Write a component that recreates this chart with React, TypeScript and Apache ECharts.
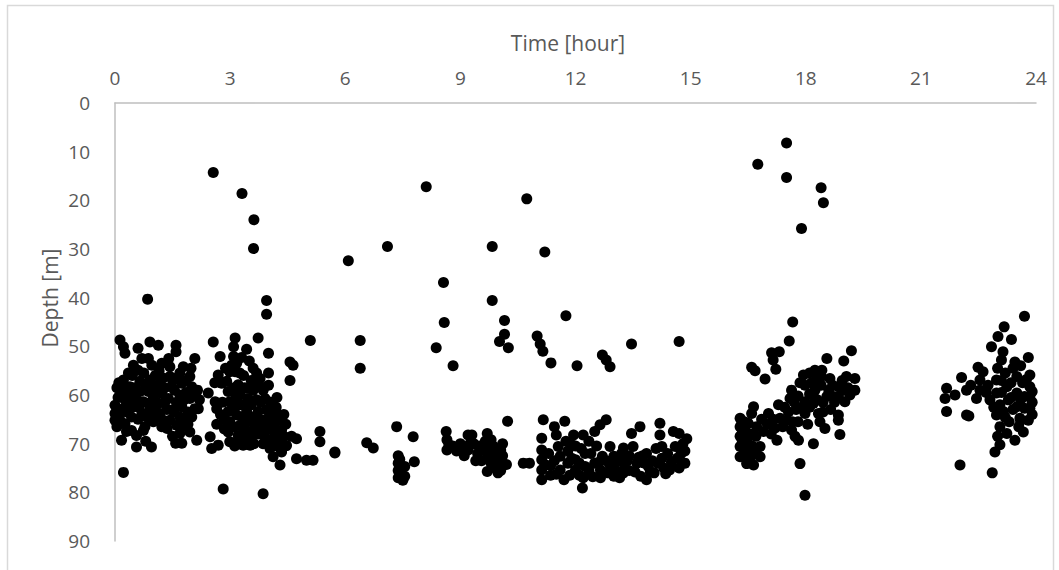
import React, { useEffect, useRef } from "react";
import * as echarts from "echarts";

const xTicks = [0, 3, 6, 9, 12, 15, 18, 21, 24];
const yTicks = [0, 10, 20, 30, 40, 50, 60, 70, 80, 90];
const xTitle = "Time [hour]";
const yTitle = "Depth [m]";

// [hour, depth]
const earlyMorning: number[][] = [
  [0.13,48.7],[0.22,50.1],[0.26,51.4],[0.6,50.4],[0.91,49.1],[1.13,49.8],[1.59,49.8],[1.59,51.1],
  [0.48,53.9],[0.6,54.9],[0.87,52.5],[0.96,53.9],[1.22,53.5],[1.43,54.2],[1.78,54.2],[2.08,52.5],
  [0.22,56.9],[0.22,59],[0.26,61],[0.22,62.8],[0.0,62.1],[0.0,63.8],[0.0,65.2],
  [0.39,58.3],[0.43,60.3],[0.48,62.4],[0.43,64.5],
  [0.65,57.2],[0.65,59.3],[0.74,61.4],[0.7,63.8],
  [0.91,56.9],[0.87,59.3],[0.87,61.7],
  [1.17,57.6],[1.22,59.7],[1.13,61.7],[1.17,63.8],
  [1.43,56.2],[1.48,58.3],[1.39,60.7],[1.48,63.1],[1.43,65.2],
  [1.69,55.5],[1.74,57.6],[1.69,60],[1.74,62.4],[1.69,64.5],[1.74,66.5],
  [1.95,56.2],[2.0,58.3],[1.95,60.7],[2.08,62.8],[2.17,62.8],
  [0.13,65.2],[0.26,65.9],[0.43,67.3],[0.56,68.3],[0.74,67.3],
  [0.17,69.3],[0.56,70.7],[0.95,70.7],[1.36,66.9],[1.58,69.9],[1.74,69.9],[1.69,67.9],
  [1.95,67.6],[2.13,69.3],[1.61,66.2],[1.78,65.2],[0.22,75.9],[0.83,64.5],[0.78,66.5],
  [1.04,64.5],[1.26,65.2],[1.22,66.5],
  [0.08,60.5],[0.3,63.5],[0.52,58.5],[0.56,61],[0.8,58],[1.0,60.5],[1.05,62.5],[1.3,58.5],
  [1.3,61.5],[1.55,59],[1.6,61.5],[1.85,59.5],[1.9,63.5],[2.05,60],[1.55,63.5],[0.35,55.5],
  [1.05,56],[0.05,58.5],
  [0.1,57.5],[0.32,59.5],[0.35,62],[0.15,63.5],[0.3,67.5],[0.62,62.5],[0.6,65],[0.9,63],
  [0.95,58],[1.1,59],[1.0,65.5],[1.35,63],[1.25,56.5],[1.5,57],[1.6,56.5],[1.8,61],
  [1.85,57],[2.0,64.5],[1.9,66],[0.75,55.5],[0.45,56],[1.15,55],[1.4,52.5],[0.7,52.5],
  [0.05,66.5],[1.5,68.5],[0.8,69.5],[2.15,59],[2.2,61],[1.98,54.5],
];

const lateMorning: number[][] = [
  [2.56,49.1],[3.13,48.3],[3.09,50.1],[3.73,48.3],[3.43,50.6],[4.0,51.4],[2.74,52.1],[3.09,52.1],
  [3.04,53.9],[2.99,55.2],[3.17,53.5],[3.13,55.2],[2.69,55.9],[2.78,57.6],
  [2.91,57.2],[2.95,59.3],[2.99,61.4],[2.95,63.4],[2.99,65.5],[2.95,67.6],[2.99,69.6],
  [3.21,57.9],[3.26,60],[3.21,62.1],[3.17,64.1],[3.26,66.2],[3.21,68.3],
  [3.43,58.6],[3.47,60.7],[3.43,63.4],[3.47,65.5],[3.52,67.6],[3.47,69.6],
  [3.6,54.5],[3.69,55.5],[3.78,56.6],[3.6,59],[3.69,61],[3.73,63.4],
  [3.86,59],[3.91,60.7],[3.95,63.1],[3.91,65.2],[3.95,67.2],
  [4.12,63.1],[4.17,65.2],[4.21,67.2],[4.12,69],
  [4.3,65.2],[4.34,67.2],[4.3,69.3],[4.34,71.4],
  [3.86,65.2],[3.73,68],[3.86,70],
  [3.34,70.3],[3.52,70.3],[3.21,69.3],[2.48,68.6],[2.52,71],[2.69,70.3],[2.43,59.6],[2.61,61.4],[2.65,62.8],
  [4.56,53.2],[4.64,53.9],[4.56,57],[4.12,72.7],[4.3,74.4],[4.73,69],[4.73,73.1],[4.99,73.4],
  [5.16,73.4],[5.34,67.5],[5.34,69.6],[5.73,71.7],[2.82,79.3],[3.86,80.3],[4.08,69.6],[4.04,71],
  [4.34,71.7],[4.47,70.4],[3.69,64.5],
  [3.35,56],[3.55,62],[3.3,64.5],[3.1,66.5],[2.85,65],[2.8,61.5],[3.65,66.5],[4.05,61.5],
  [4.2,62.5],[4.45,66],[4.0,58],[3.35,67],[4.6,68.5],[4.15,67.5],
  [3.1,58.5],[3.15,60.5],[3.05,63],[3.3,62],[3.38,58.5],[3.55,57],[3.58,64.5],[3.62,68],
  [3.8,61.5],[3.8,66.5],[3.75,58],[4.05,64],[4.1,66.5],[4.25,64],[4.25,68.5],[4.4,68.5],
  [4.4,64],[4.2,70.5],[2.85,67],[2.75,64],[2.65,66],[3.12,70.5],[3.4,68.8],[3.62,70],
  [3.9,68.5],[2.88,54.5],[3.25,55.5],[3.5,53],[3.3,52.3],[2.6,57.5],[4.0,55.5],[4.22,60.5],
];

const scatteredHigh: number[][] = [
  [2.56,14.3],[3.31,18.6],[3.62,24],[3.61,29.9],[3.95,40.6],[3.95,43.4],[5.09,48.8],
  [0.85,40.3],[6.08,32.4],[7.1,29.5],[8.11,17.2],[8.56,36.9],[9.83,29.5],[9.83,40.6],
  [6.39,48.8],[6.39,54.5],[8.58,45.1],[8.37,50.3],[8.81,54],[10.15,44.7],[10.15,47.5],
  [10.02,49],[10.25,50.3],[10.73,19.7],[11.2,30.6],[11.75,43.7],[11.0,47.9],[11.08,49.5],
  [11.15,51],[11.36,53.4],[12.04,54],[12.7,51.8],[12.8,52.8],[12.9,54.2],[13.46,49.5],[14.7,49],
  [17.5,8.2],[16.75,12.6],[17.5,15.3],[18.4,17.4],[18.46,20.5],[17.89,25.8],
];

const middayBand: number[][] = [
  [5.73,71.9],[6.56,69.8],[6.73,70.9],[7.34,66.5],[7.77,68.6],[7.38,72.5],[7.38,74],[7.38,75.5],
  [7.38,77],[7.55,74.7],[7.55,76.7],[7.8,73.7],[7.45,76],[7.5,77.5],
  [8.63,67.5],[8.65,69.2],[8.65,71.3],[8.8,70.5],[9.2,68.2],[9.3,68.2],[9.2,71.3],[9.45,72],
  [9.7,67.9],[9.8,69.2],[9.7,72],[9.8,74],[9.7,75.7],[9.95,72],[10.0,74],[9.98,76],[10.2,74.3],
  [10.23,65.4],[10.64,74],[10.8,74],
  [8.9,71.5],[9.0,70],[9.1,72.5],[9.35,70],[9.5,70.5],[9.55,73.5],[9.6,71],[9.85,70.5],
  [9.9,75],[10.1,72.5],[10.05,75.5],[9.4,73.5],[10.1,70],
  [8.7,70.2],[8.95,71],[9.25,70],[9.65,69.5],[9.75,73],[9.9,73.5],[10.05,71.3],[7.42,73.2],
];

const afternoonBand: number[][] = [
  [11.16,65.1],[11.72,65.4],[12.64,66.1],[12.8,65.1],
  [11.12,68.9],[11.12,71.3],[11.12,73.3],[11.12,75.4],[11.12,77.4],
  [11.5,68.2],[11.55,70.6],[11.6,72.6],[11.6,75.4],[11.7,77.4],
  [11.95,68.2],[12.0,70.5],[12.0,73.3],[12.0,75.4],
  [12.2,68.2],[12.25,72],[12.25,74.7],[12.2,77],[12.18,79.1],
  [12.4,72],[12.5,74],[12.7,72.6],[12.65,75.4],[12.65,77],
  [12.9,70.6],[13.0,72.6],[13.0,75],[13.0,76.7],
  [13.25,70.9],[13.25,74],[13.25,76],
  [13.46,67.9],[13.68,66.5],
  [13.5,70.6],[13.6,74],[13.7,76.7],
  [13.85,72],[13.9,74.7],[13.85,77.4],
  [14.2,65.8],[14.2,68.2],[14.25,70.6],[14.25,73],[14.3,75],
  [14.55,67.5],[14.7,67.9],[14.6,70.6],[14.65,73],[14.7,75],[14.45,75.4],
  [11.3,72],[11.35,74.5],[11.35,76.5],[11.8,71.5],[11.8,74],[11.85,76.5],[12.1,76.5],[12.35,75.5],
  [12.55,70.5],[12.8,73.5],[12.85,76],[13.1,73.5],[13.15,77],[13.4,72.5],[13.4,75.5],[13.75,72.5],
  [14.0,73.5],[14.05,76],[14.1,71],[14.4,72],[14.85,71.5],[14.85,74],[14.9,69],[11.45,66.5],
  [12.5,67.5],[12.35,69.5],[11.75,69.5],
  [11.2,74.3],[11.45,73.5],[11.5,76.3],[11.9,73],[12.1,74],[12.45,76.8],[12.6,73.8],[12.9,74.5],
  [13.1,75.8],[13.35,73.5],[13.55,75.8],[13.65,72.8],[13.95,75.8],[14.15,74],[14.35,76.2],[14.5,73.8],
  [14.75,72],[14.8,70],[11.9,70.2],[12.15,71],[13.2,72],[13.8,74],
];

const eveningCluster: number[][] = [
  [17.66,45],[17.57,48.9],[17.11,51.3],[17.31,51.1],[17.15,52.8],[17.22,54.7],[16.59,54.3],[16.68,55],[16.94,56.7],
  [16.29,64.8],[16.29,66.5],[16.29,68.5],[16.29,70.6],[16.29,72.7],
  [16.42,67.2],[16.46,69.3],[16.5,71.3],[16.46,74.1],[16.64,74.4],
  [16.64,62.4],[16.59,63.8],[16.72,66.5],[16.81,70.6],[16.81,72.7],
  [17.03,63.8],[17.29,62],[17.33,64.8],[17.25,69.3],
  [17.63,59],[17.59,60.7],[17.5,65.2],[17.63,67.2],[17.72,68.5],[17.81,69.3],[17.85,74.1],[17.98,80.6],
  [17.94,55.9],[17.98,58],[17.98,61.4],[17.98,63.8],
  [18.24,54.9],[18.42,54.9],[18.24,59],[18.2,61.7],[18.33,63.8],[18.37,65.5],[18.5,66.9],[18.2,70],
  [18.55,52.5],[18.63,56.6],[18.55,60.3],[18.85,58.3],[18.85,60.3],[18.85,64.1],[18.85,65.2],[18.89,68.1],
  [18.99,53],[19.19,50.9],[19.06,56.2],[19.28,56.6],[19.28,59],[18.98,59],[19.02,61.4],[18.72,60.3],
  [16.4,65.5],[16.55,68],[16.6,70.5],[16.7,68.5],[16.9,67.5],[17.0,66],[17.1,68],[17.4,66.5],
  [17.45,62.5],[17.75,63],[17.8,65.5],[17.7,61.5],[18.1,62.5],[18.05,66],[18.4,58],[18.45,61.5],
  [18.65,63],[18.3,56.5],[18.7,58],[19.1,58.5],[17.85,57.5],[18.15,57.5],[16.35,69.5],[16.4,72],
  [16.35,67.5],[16.5,65.8],[16.55,73],[16.7,71.5],[16.85,65],[17.15,65],[17.2,66.8],[17.55,63.5],
  [17.65,65.5],[17.9,62.5],[18.1,59.8],[18.3,61],[18.45,63.5],[18.6,59],[18.75,61.5],[18.95,57],
  [19.15,60],[18.4,56.2],[18.1,55.5],[17.8,60.2],
];

const nightCluster: number[][] = [
  [23.7,43.8],[23.17,46],[23.01,48],[23.36,48.6],[22.84,50.1],[23.14,51.1],[23.1,52.8],[23.45,53.2],
  [23.8,52.3],[22.49,54.3],[22.62,55.2],[22.06,56.4],[22.19,59],[22.45,60.7],[21.67,58.6],[21.89,60],
  [21.63,60.7],[21.67,63.4],[22.19,64.1],[22.25,64.3],[22.02,74.4],[22.86,76],
  [22.93,71.7],[23.06,70.2],[23.06,66.5],[23.24,67.9],[23.45,69.3],[23.67,67.6],[23.58,64.8],
  [22.97,56.9],[22.97,59.6],[23.06,62],[22.97,64.1],
  [23.2,55.5],[23.24,58.3],[23.28,61],[23.15,63.4],
  [23.5,56.2],[23.5,59.6],[23.5,62.4],[23.6,65.2],
  [23.84,55.9],[23.84,58.3],[23.84,60.3],[23.84,62.7],[23.8,65.2],
  [22.54,56.9],[22.54,59],[23.4,54.5],[23.7,60.3],[23.7,62.7],
  [22.75,58],[22.8,61],[23.35,60.5],[23.65,57.5],[23.9,64],[22.3,58],[23.1,57],[23.55,66.5],
  [23.0,68.5],[23.3,65.5],
  [23.1,59.5],[23.35,57.5],[23.4,63],[23.6,61],[23.75,56.8],[23.9,59.3],[23.9,61.5],[23.2,64.6],
  [22.9,62.5],[22.7,59.5],[23.6,54],[23.0,54.5],
];

const allPoints = [
  ...earlyMorning, ...lateMorning, ...scatteredHigh, ...middayBand,
  ...afternoonBand, ...eveningCluster, ...nightCluster,
];

const FONT = "'Open Sans', sans-serif";
const LABEL = "#595959";
const AXIS = "#bfbfbf";

export default function App() {
  const ref = useRef<HTMLDivElement>(null);
  useEffect(() => {
    if (!ref.current) return;
    const chart = echarts.init(ref.current, undefined, { renderer: "svg" });
    chart.setOption({
      animation: false,
      backgroundColor: "#ffffff",
      grid: { left: 115, top: 103, width: 921, height: 438 },
      xAxis: {
        type: "value",
        position: "top",
        min: xTicks[0],
        max: xTicks[xTicks.length - 1],
        interval: 3,
        axisLine: { show: true, onZero: false, lineStyle: { color: AXIS, width: 1.5 } },
        axisTick: { show: false },
        splitLine: { show: false },
        axisLabel: { color: LABEL, fontSize: 19, fontFamily: FONT, margin: 16 },
      },
      yAxis: {
        type: "value",
        inverse: true,
        min: yTicks[0],
        max: yTicks[yTicks.length - 1],
        interval: 10,
        axisLine: { show: true, onZero: false, lineStyle: { color: AXIS, width: 1.5 } },
        axisTick: { show: false },
        splitLine: { show: false },
        axisLabel: { color: LABEL, fontSize: 19, fontFamily: FONT, margin: 25 },
      },
      graphic: [
        {
          type: "rect",
          shape: { x: 7.5, y: 5.5, width: 1046, height: 620 },
          style: { fill: "none", stroke: "#d9d9d9", lineWidth: 1.5 },
          silent: true,
        },
        {
          type: "text",
          x: 568,
          y: 43,
          style: {
            text: xTitle, fill: LABEL, fontSize: 21, fontFamily: FONT,
            align: "center", verticalAlign: "middle",
          },
        },
        {
          type: "text",
          x: 50,
          y: 298,
          rotation: Math.PI / 2,
          style: {
            text: yTitle, fill: LABEL, fontSize: 21, fontFamily: FONT,
            align: "center", verticalAlign: "middle",
          },
        },
      ],
      series: [
        {
          type: "scatter",
          data: allPoints,
          symbol: "circle",
          symbolSize: 11,
          itemStyle: { color: "#000000", opacity: 1 },
        },
      ],
    });
    return () => chart.dispose();
  }, []);
  return (
    <div
      ref={ref}
      style={{ position: "absolute", left: 0, top: 0, width: 1059, height: 570, background: "#fff" }}
    />
  );
}
